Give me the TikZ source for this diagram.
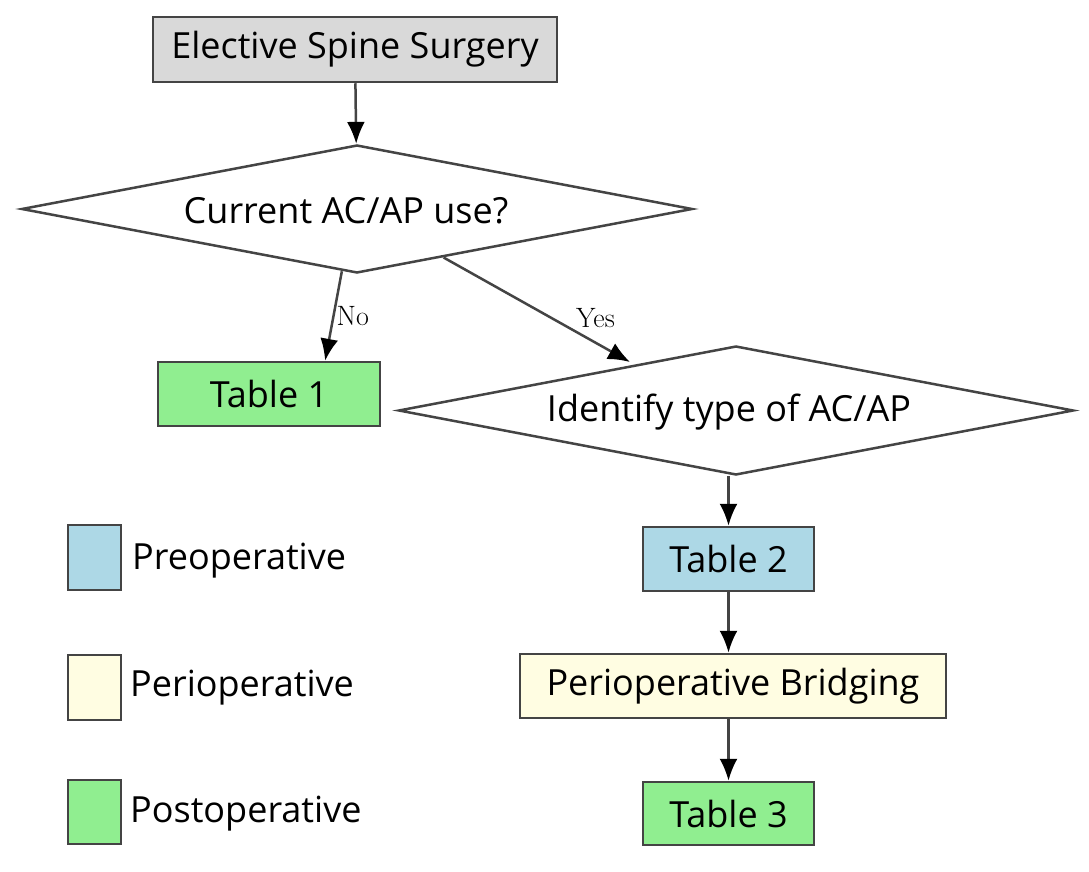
\documentclass[tikz,border=0pt]{standalone}
\usepackage{fontspec}
\setsansfont{Open Sans}
\usetikzlibrary{arrows.meta,calc,positioning,shapes.geometric}
\definecolor{sgray}{RGB}{217,217,217}
\definecolor{sgreen}{RGB}{144,238,144}
\definecolor{sblue}{RGB}{173,216,230}
\definecolor{syellow}{RGB}{255,253,226}
\definecolor{sline}{RGB}{68,68,68}

\begin{document}
\begin{tikzpicture}[x=1pt,y=-1pt,>={Latex[length=22pt,width=18pt,black]},
    font=\sffamily\fontsize{36}{42}\selectfont,
    box/.style={draw=sline,line width=2.5pt,rectangle,inner sep=0pt},
    decide/.style={draw=sline,line width=2.5pt,diamond,aspect=5.2,inner sep=0pt,fill=white},
    flow/.style={->,draw=sline,line width=2.5pt},
    lab/.style={font=\rmfamily\fontsize{28}{32}\selectfont,inner sep=2pt}]
        \useasboundingbox[fill=white] (0,0) rectangle (1089,872);
        \node[box,fill=sgray,minimum width=404pt,minimum height=65pt] (start) at (355,49.5) {Elective Spine Surgery};
        \node[decide,minimum width=671pt,minimum height=128pt] (d1) at (357,209) {};
        \node (q1) at (346,211) {Current AC/AP use?};
        \node[box,fill=sgreen,minimum width=222pt,minimum height=64pt] (tab1) at (269,394) {Table 1};
        \node[decide,minimum width=675pt,minimum height=129pt] (d2) at (736,410.5) {};
        \node (q2) at (729,412) {Identify type of AC/AP};
        \node[box,fill=sblue,minimum width=171pt,minimum height=64pt] (tab2) at (728.5,559) {Table 2};
        \node[box,fill=syellow,minimum width=426pt,minimum height=64pt] (bridge) at (733,686) {Perioperative Bridging};
        \node[box,fill=sgreen,minimum width=171pt,minimum height=63pt] (tab3) at (728.5,813.5) {Table 3};
        % legend
        \node[box,fill=sblue,minimum width=53pt,minimum height=65pt] (leg1) at (94.5,557.5) {};
        \node[box,fill=syellow,minimum width=53pt,minimum height=65pt] (leg2) at (94.5,687.5) {};
        \node[box,fill=sgreen,minimum width=53pt,minimum height=64pt] (leg3) at (94.5,812) {};
        \node[anchor=west,inner sep=0pt] (txt1) at (132,561) {Preoperative};
        \node[anchor=west,inner sep=0pt] (txt2) at (130,688) {Perioperative};
        \node[anchor=west,inner sep=0pt] (txt3) at (130,814) {Postoperative};
        % arrows
        \draw[flow] (start) -- (d1);
        \draw[flow] ($(d1.south)!0.045!(d1.west)$) -- node[lab,pos=0.5,anchor=west] {No} ($(tab1.north)!0.5!(tab1.north east)$);
        \draw[flow,shorten >=5pt] ($(d1.south)!0.257!(d1.east)$) -- node[lab,pos=0.72,anchor=south west,xshift=-8pt,yshift=4pt] {Yes} ($(d2.west)!0.7!(d2.north)$);
        \draw[flow] (d2.south -| tab2.north) -- (tab2);
        \draw[flow] (tab2) -- (tab2 |- bridge.north);
        \draw[flow] (tab2 |- bridge.south) -- (tab3);
      \end{tikzpicture}
\end{document}
